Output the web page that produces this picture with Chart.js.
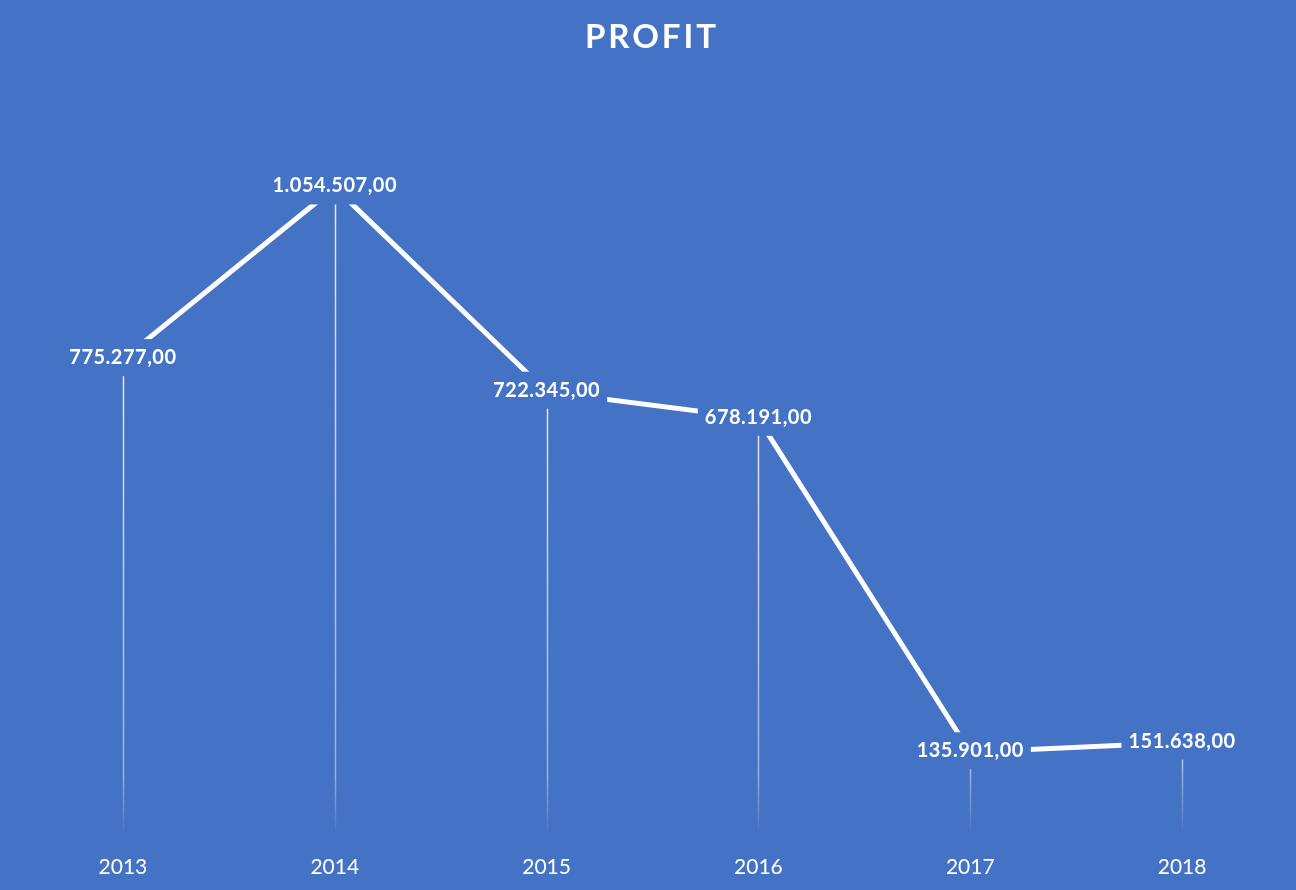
<!DOCTYPE html>
<html>
<head>
<meta charset="utf-8">
<title>Profit</title>
<script src="https://cdn.jsdelivr.net/npm/chart.js@4.4.1/dist/chart.umd.min.js"></script>
<style>
  html, body { margin: 0; padding: 0; background: #4472C4; }
  #wrap { width: 1296px; height: 890px; }
</style>
</head>
<body>
<div id="wrap"><canvas id="profitChart" width="1296" height="890"></canvas></div>
<script>
// Données
const years = ['2013', '2014', '2015', '2016', '2017', '2018'];
const profit = [775277, 1054507, 722345, 678191, 135901, 151638];
const chartTitle = 'PROFIT';

const bgColor = '#4472C4';

// Format 1.054.507,00
function formatValue(v) {
  const parts = v.toFixed(2).split('.');
  const ent = parts[0].replace(/\B(?=(\d{3})+(?!\d))/g, '.');
  return ent + ',' + parts[1];
}

// Fond, titre, lignes de rappel et étiquettes
const profitPlugin = {
  id: 'profitPlugin',
  beforeDraw(chart) {
    const ctx = chart.ctx;
    ctx.save();
    ctx.fillStyle = bgColor;
    ctx.fillRect(0, 0, chart.width, chart.height);
    ctx.font = 'bold 33px Lato';
    ctx.letterSpacing = '3px';
    ctx.fillStyle = '#ffffff';
    ctx.textAlign = 'center';
    ctx.textBaseline = 'alphabetic';
    ctx.fillText(chartTitle, chart.width / 2 + 4, 48);
    ctx.restore();
  },
  beforeDatasetsDraw(chart) {
    const ctx = chart.ctx;
    const meta = chart.getDatasetMeta(0);
    const bottom = chart.chartArea.bottom;
    ctx.save();
    meta.data.forEach((pt) => {
      const grad = ctx.createLinearGradient(0, pt.y, 0, bottom);
      grad.addColorStop(0, 'rgba(255,255,255,0.85)');
      grad.addColorStop(Math.max(0, 1 - 60 / (bottom - pt.y)), 'rgba(255,255,255,0.45)');
      grad.addColorStop(1, 'rgba(255,255,255,0)');
      ctx.strokeStyle = grad;
      ctx.lineWidth = 1.5;
      ctx.beginPath();
      ctx.moveTo(Math.round(pt.x) + 0.5, pt.y);
      ctx.lineTo(Math.round(pt.x) + 0.5, bottom);
      ctx.stroke();
    });
    ctx.restore();
  },
  afterDatasetsDraw(chart) {
    const ctx = chart.ctx;
    const meta = chart.getDatasetMeta(0);
    ctx.save();
    ctx.font = 'bold 20px Lato';
    ctx.letterSpacing = '0.5px';
    ctx.textAlign = 'center';
    ctx.textBaseline = 'alphabetic';
    meta.data.forEach((pt, i) => {
      const txt = formatValue(profit[i]);
      const w = ctx.measureText(txt).width;
      ctx.fillStyle = bgColor;
      ctx.fillRect(pt.x - w / 2 - 7, pt.y - 20, w + 14, 37);
      ctx.fillStyle = '#ffffff';
      ctx.fillText(txt, pt.x, pt.y + 5);
    });
    ctx.restore();
  }
};

new Chart(document.getElementById('profitChart'), {
  type: 'line',
  data: {
    labels: years,
    datasets: [
      {
        label: 'Profit',
        data: profit,
        borderColor: '#ffffff',
        borderWidth: 5,
        pointRadius: 0,
        tension: 0,
        fill: false
      }
    ]
  },
  options: {
    responsive: false,
    animation: false,
    devicePixelRatio: 1,
    layout: {
      padding: { top: 98, left: 17, right: 8, bottom: -9 }
    },
    plugins: {
      legend: { display: false },
      title: { display: false },
      tooltip: { enabled: false }
    },
    scales: {
      x: {
        offset: true,
        grid: { display: false, drawTicks: false },
        border: { display: false },
        ticks: {
          color: '#ffffff',
          padding: 19,
          font: { family: 'Lato', size: 21 }
        }
      },
      y: {
        display: false,
        min: 0,
        max: 1200000
      }
    }
  },
  plugins: [profitPlugin]
});
</script>
</body>
</html>
